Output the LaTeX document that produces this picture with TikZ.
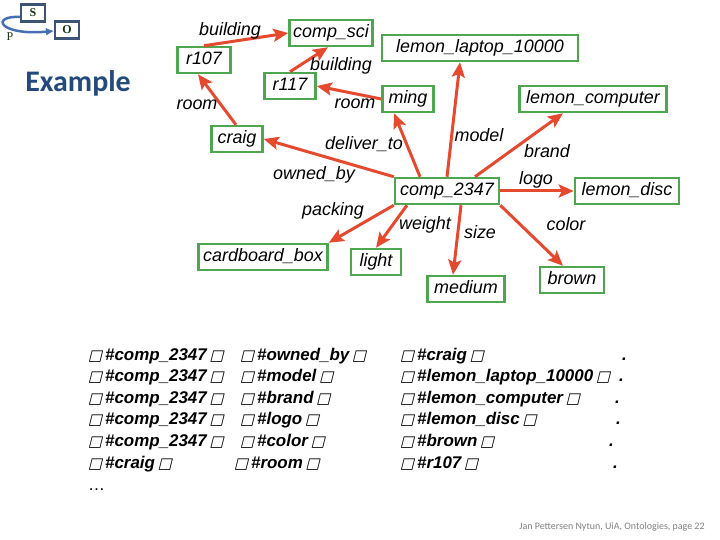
\documentclass[tikz,border=0pt]{standalone}
\usepackage{fontspec}
\setmainfont{Liberation Sans}
\newfontfamily\slidefont{Carlito}
\newfontfamily\iconfont{Liberation Serif}
\newfontfamily\boxfont[FakeSlant=0.25]{DejaVu Sans}
\usepackage{tikz}
\usetikzlibrary{positioning,calc,arrows.meta}

\definecolor{boxgreen}{RGB}{78,166,78}
\definecolor{linkred}{RGB}{230,74,46}
\definecolor{titleblue}{RGB}{34,74,124}
\definecolor{iconframe}{RGB}{62,84,118}
\definecolor{iconline}{RGB}{70,112,180}
\definecolor{icontext}{RGB}{20,50,20}

\newcommand{\gapbox}{{\boxfont\fontsize{15}{15}\selectfont □}}

\tikzset{
    res/.style={draw=boxgreen, line width=2.5bp, fill=white, inner xsep=3.5bp, inner ysep=4.5bp,
        text height=13bp, text depth=4bp, font=\fontsize{18}{20}\selectfont\itshape,
        minimum width=#1},
    res/.default=20bp,
    rel/.style={inner sep=0pt, font=\fontsize{18}{20}\selectfont\itshape},
    link/.style={draw=linkred, line width=3bp, -{Stealth[length=15bp,width=13bp,inset=3bp]}},
    triple/.style={anchor=base west, inner sep=0pt, font=\fontsize{17}{20}\selectfont\bfseries\itshape},
    icon/.style={draw=iconframe, line width=2.2bp, fill=white, minimum width=24bp, minimum height=17bp,
        inner sep=0pt, text=icontext, font=\iconfont\bfseries\fontsize{12}{12}\selectfont}
}

\begin{document}
\begin{tikzpicture}[x=1bp,y=-1bp]
    \useasboundingbox (0,0) rectangle (720,540);

    % subject - predicate - object icon
    \draw[iconline, line width=2.5bp, -{Latex[length=8bp,width=8bp]}]
        (21,17) .. controls (-10,15) and (-2,36) .. (54,31);
    \node[icon] (s) at (33,13) {S};
    \node[icon] (o) at (67,30) {O};
    \node[inner sep=0pt, text=icontext, font=\iconfont\fontsize{12}{12}\selectfont] (p) at (10,37) {P};

    \node[font=\slidefont\bfseries\fontsize{30}{32}\selectfont, text=titleblue, inner sep=0pt]
        (title) at (78,83) {Example};

    % resources
    \node[res=83bp]  (compsci)   at (331,33)  {comp\_sci};
    \node[res=196bp] (laptop)    at (480,48)  {lemon\_laptop\_10000};
    \node[res=53bp]  (r107)      at (204,60)  {r107};
    \node[res=51bp]  (r117)      at (290,86)  {r117};
    \node[res=51bp]  (ming)      at (408,99)  {ming};
    \node[res=147bp] (computer)  at (593,99)  {lemon\_computer};
    \node[res=51bp]  (craig)     at (237,139) {craig};
    \node[res=104bp] (comp)      at (447,191) {comp\_2347};
    \node[res=104bp] (disc)      at (627,191) {lemon\_disc};
    \node[res=129bp] (cardboard) at (263,257) {cardboard\_box};
    \node[res=50bp]  (light)     at (376,262) {light};
    \node[res=77bp]  (medium)    at (466,289) {medium};
    \node[res=64bp]  (brown)     at (572,280) {brown};

    % properties
    \draw[link] (r107.north) -- (compsci.west);
    \draw[link] (r117.north) -- ([xshift=-3bp]compsci.south);
    \draw[link] ([xshift=-1bp]craig.north) -- ([xshift=-6bp]r107.south);
    \draw[link] (ming.west) -- (r117.east);
    \draw[link] (comp.north) -- ([xshift=-20bp]laptop.south);
    \draw[link] ([xshift=-27bp]comp.north) -- ([xshift=-14bp]ming.south);
    \draw[link] ([xshift=28bp]comp.north) -- ([xshift=-30bp]computer.south);
    \draw[link] (comp.north west) -- (craig.east);
    \draw[link] (comp.east) -- (disc.west);
    \draw[link] (comp.south west) -- (cardboard.north east);
    \draw[link] ([xshift=-40bp]comp.south) -- (light.north);
    \draw[link] ([xshift=14bp]comp.south) -- ([xshift=-13bp]medium.north);
    \draw[link] (comp.south east) -- ([xshift=-9bp]brown.north);

    \node[rel] (lbuildingA) at (230,31)  {building};
    \node[rel] (lbuildingB) at (341,66)  {building};
    \node[rel] (lroomA)     at (197,105) {room};
    \node[rel] (lroomB)     at (355,104) {room};
    \node[rel] (ldeliver)   at (364,144) {deliver\_to};
    \node[rel] (lmodel)     at (479,135) {model};
    \node[rel] (lbrand)     at (547,151) {brand};
    \node[rel] (lowned)     at (314,175) {owned\_by};
    \node[rel] (llogo)      at (536,180) {logo};
    \node[rel] (lpacking)   at (333,211) {packing};
    \node[rel] (lweight)    at (425,225) {weight};
    \node[rel] (lsize)      at (480,232) {size};
    \node[rel] (lcolor)     at (566,224) {color};

    % triples
    \node[triple] (t1s) at (88,360)   {\gapbox\,\#comp\_2347\,\gapbox};
    \node[triple] (t1p) at (240,360)  {\gapbox\,\#owned\_by\,\gapbox};
    \node[triple] (t1o) at (400,360)  {\gapbox\,\#craig\,\gapbox};
    \node[triple] (t1d) at (622,360)  {.};
    \node[triple] (t2s) at (88,381.6) {\gapbox\,\#comp\_2347\,\gapbox};
    \node[triple] (t2p) at (240,381.6) {\gapbox\,\#model\,\gapbox};
    \node[triple] (t2o) at (400,381.6) {\gapbox\,\#lemon\_laptop\_10000\,\gapbox};
    \node[triple] (t2d) at (619,381.6) {.};
    \node[triple] (t3s) at (88,403.2) {\gapbox\,\#comp\_2347\,\gapbox};
    \node[triple] (t3p) at (240,403.2) {\gapbox\,\#brand\,\gapbox};
    \node[triple] (t3o) at (400,403.2) {\gapbox\,\#lemon\_computer\,\gapbox};
    \node[triple] (t3d) at (615,403.2) {.};
    \node[triple] (t4s) at (88,424.8) {\gapbox\,\#comp\_2347\,\gapbox};
    \node[triple] (t4p) at (240,424.8) {\gapbox\,\#logo\,\gapbox};
    \node[triple] (t4o) at (400,424.8) {\gapbox\,\#lemon\_disc\,\gapbox};
    \node[triple] (t4d) at (616,424.8) {.};
    \node[triple] (t5s) at (88,446.4) {\gapbox\,\#comp\_2347\,\gapbox};
    \node[triple] (t5p) at (240,446.4) {\gapbox\,\#color\,\gapbox};
    \node[triple] (t5o) at (400,446.4) {\gapbox\,\#brown\,\gapbox};
    \node[triple] (t5d) at (609,446.4) {.};
    \node[triple] (t6s) at (88,468)   {\gapbox\,\#craig\,\gapbox};
    \node[triple] (t6p) at (234,468)  {\gapbox\,\#room\,\gapbox};
    \node[triple] (t6o) at (400,468)  {\gapbox\,\#r107\,\gapbox};
    \node[triple] (t6d) at (613,468)  {.};
    \node[triple, font=\fontsize{17}{20}\selectfont] (more) at (88,490) {\dots};

    \node[font=\slidefont\fontsize{10}{12}\selectfont, text=black!50, inner sep=0pt]
        (footer) at (612,527) {Jan Pettersen Nytun, UiA, Ontologies, page 22};
\end{tikzpicture}
\end{document}
